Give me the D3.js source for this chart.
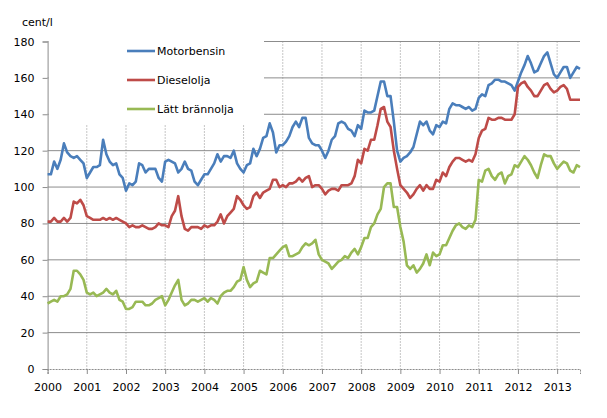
<!DOCTYPE html>
<html><head><meta charset="utf-8">
<script src="https://cdn.jsdelivr.net/npm/d3@7"></script>
<style>body{margin:0;background:#fff}text{font-family:"DejaVu Sans",sans-serif;font-size:11px;fill:#000}</style>
</head><body><svg id="c" width="607" height="418"></svg>
<script>
const seriesNames=["Motorbensin","Dieselolja","Lätt brännolja"];
const colors=["#4a7ebb","#be4b48","#98b954"];
const yTicks=[0,20,40,60,80,100,120,140,160,180];
const years=[2000,2001,2002,2003,2004,2005,2006,2007,2008,2009,2010,2011,2012,2013];
const motorbensin=[
107,107,114,110,115,124,119,117,116,117,115,113,
105,108,111,111,112,126,118,114,112,113,107,105,
98,102,101,103,113,112,108,110,110,110,105,103,
114,115,114,113,108,110,114,110,109,103,101,104,
107,107,110,113,118,114,117,117,116,120,113,110,
108,112,113,121,117,121,127,128,135,130,119,123,
123,125,128,133,136,133,138,138,127,124,123,123,
120,116,120,126,128,135,136,135,132,131,128,134,
132,142,141,141,142,150,158,158,150,150,136,120,
114,116,117,119,122,129,136,134,136,131,129,134,
133,136,135,143,146,145,145,144,143,144,142,143,
149,151,150,156,157,159,159,158,158,157,156,153,
158,163,167,172,168,163,164,168,172,174,168,162,
160,163,166,166,160,163,166,165];
const dieselolja=[
81,81,83,81,81,83,81,83,92,91,93,90,
84,83,82,82,82,83,82,83,82,83,82,81,
80,78,79,78,78,79,78,77,77,78,80,79,
79,78,84,87,95,84,77,76,78,78,78,77,
79,78,79,79,81,85,80,84,86,88,95,93,
90,88,89,95,97,94,97,98,99,104,104,100,
101,100,102,102,103,105,103,105,106,100,101,101,
99,96,98,99,99,98,101,101,101,102,106,115,
113,121,120,126,126,134,143,144,136,133,120,110,
101,99,97,94,96,99,101,98,101,99,99,104,
103,108,106,111,114,116,116,115,114,115,114,118,
127,131,132,138,137,137,138,138,137,137,137,140,
155,157,158,155,153,150,150,153,156,157,154,152,
153,155,156,154,148,148,148,148];
const lattBrannolja=[
36,37,38,37,40,40,41,44,54,54,52,49,
42,41,42,40,41,42,44,42,41,43,38,37,
33,33,34,37,37,37,35,35,36,38,39,40,
35,38,42,46,49,38,35,36,38,38,37,38,
39,37,39,38,36,40,42,43,43,45,48,49,
56,49,45,47,48,54,53,52,61,61,63,65,
67,68,62,62,63,64,67,69,68,69,71,63,
60,59,58,55,57,59,60,62,61,64,66,63,
67,72,72,78,80,85,88,100,102,102,89,89,
78,70,57,55,57,53,55,58,63,57,64,62,
63,68,68,72,76,79,80,78,77,79,78,82,
104,103,109,110,106,104,107,108,102,106,107,112,
111,114,117,115,112,108,105,112,118,117,117,113,
110,112,114,113,109,108,112,111];
const data=[motorbensin,dieselolja,lattBrannolja];

const svg=d3.select("#c");
const L=47.6,R=580,T=41.5,B=369;
const x=d3.scaleLinear().domain([2000,2000+(motorbensin.length-1)/12]).range([L,R]);
const y=d3.scaleLinear().domain([0,180]).range([B,T]);

svg.append("g").selectAll("line").data(yTicks.slice(1)).join("line")
 .attr("x1",L).attr("x2",R).attr("y1",d=>y(d)).attr("y2",d=>y(d)).attr("stroke","#8c8c8c");
svg.append("g").selectAll("line").data(years.slice(1)).join("line")
 .attr("x1",d=>x(d)).attr("x2",d=>x(d)).attr("y1",T).attr("y2",B)
 .attr("stroke","#8c8c8c").attr("stroke-dasharray","1,2");
// legend background
svg.append("rect").attr("x",L+1).attr("y",T-2).attr("width",264-L-1).attr("height",125-T+2).attr("fill","#fff");

const ya=svg.append("g").attr("transform",`translate(${L},0)`)
 .call(d3.axisLeft(y).tickValues(yTicks).tickSize(5).tickPadding(8));
ya.select(".domain").attr("stroke","#8c8c8c");
ya.selectAll("line").attr("stroke","#8c8c8c");
const xa=svg.append("g").attr("transform",`translate(0,${B})`)
 .call(d3.axisBottom(x).tickValues(years).tickFormat(d3.format("d")).tickSize(5).tickPadding(9));
xa.select(".domain").attr("stroke","#8c8c8c").attr("stroke-dasharray","2,1");
xa.selectAll("line").attr("stroke","#8c8c8c");
svg.selectAll(".tick text").style("font-family","DejaVu Sans").style("font-size","11px");

const line=d3.line().x((d,i)=>x(2000+i/12)).y(d=>y(d));
data.forEach((s,k)=>svg.append("path").datum(s).attr("d",line)
 .attr("fill","none").attr("stroke",colors[k]).attr("stroke-width",2.6).attr("stroke-linejoin","round"));

svg.append("text").attr("x",22).attr("y",26).text("cent/l");
const lg=svg.append("g");
seriesNames.forEach((n,k)=>{
 const yy=51+k*29;
 lg.append("line").attr("x1",127).attr("x2",155).attr("y1",yy).attr("y2",yy).attr("stroke",colors[k]).attr("stroke-width",2.6);
 lg.append("text").attr("x",157).attr("y",yy+4).text(n);
});
</script></body></html>
